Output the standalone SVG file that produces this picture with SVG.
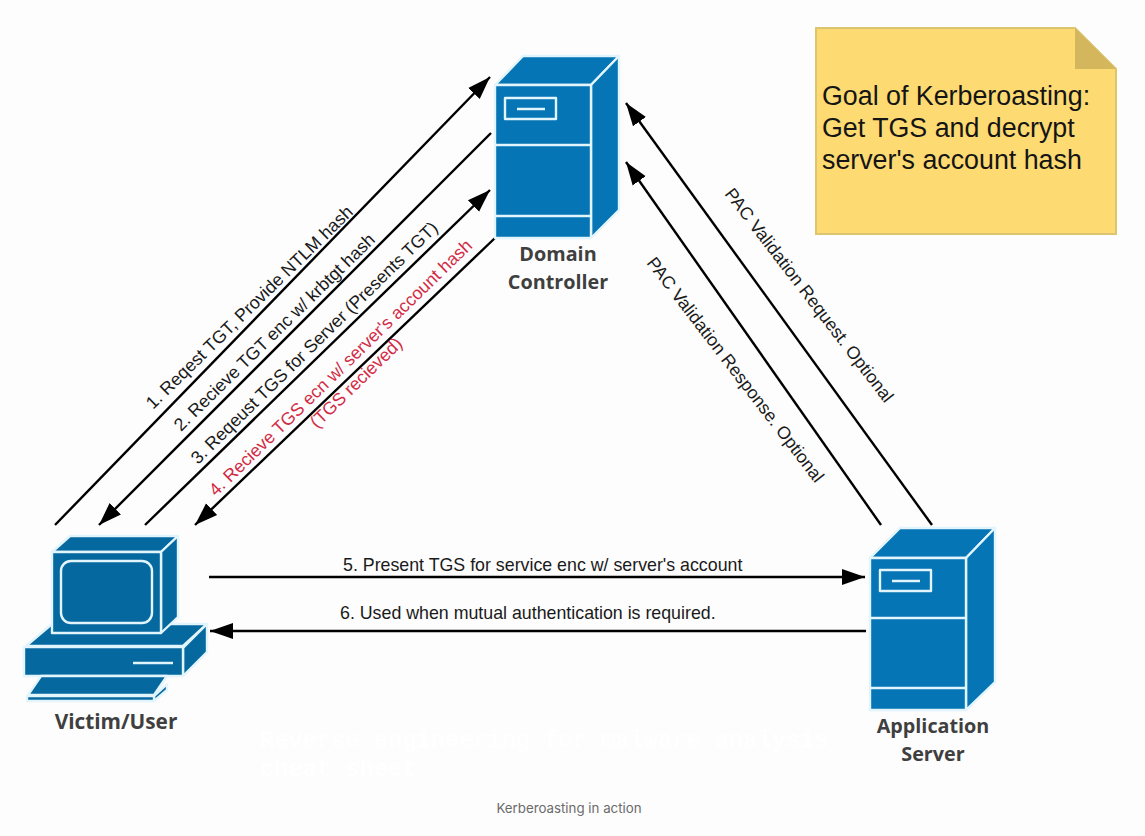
<svg xmlns="http://www.w3.org/2000/svg" width="1145" height="836" viewBox="0 0 1145 836">
<style>
.s{stroke:#e2f4fc;stroke-width:2.4;stroke-linejoin:round}
.srv{fill:#0575b5}
.pc{fill:#05699f}
.c{fill:none;stroke:#000;stroke-width:2.4}
.a{font-family:"Liberation Sans",Arial,sans-serif;font-size:17.8px;fill:#1a1a1a}
.r{fill:#d22b45}
.n{font-family:"Open Sans","Noto Sans",sans-serif;font-weight:700;font-size:19.8px;fill:#3f3f3f;text-anchor:middle}
.g{font-family:"Liberation Sans",Arial,sans-serif;font-size:26.8px;fill:#151515}
</style>
<defs>
<marker id="h" markerUnits="userSpaceOnUse" markerWidth="24" markerHeight="18" refX="23" refY="9" orient="auto"><path d="M0 1L23 9L0 17Z" fill="#000"/></marker>
</defs>
<rect width="1145" height="836" fill="#fdfdfd"/>
<g id="connectors">
<path class="c" d="M55 525L490 77" marker-end="url(#h)"/>
<path class="c" d="M491 133L99 525" marker-end="url(#h)"/>
<path class="c" d="M145 525L490 190" marker-end="url(#h)"/>
<path class="c" d="M495 238L195 525" marker-end="url(#h)"/>
<path class="c" d="M209 577H865" marker-end="url(#h)"/>
<path class="c" d="M866 631H210" marker-end="url(#h)"/>
<path class="c" d="M932 525L626 103" marker-end="url(#h)"/>
<path class="c" d="M881 525L626 162" marker-end="url(#h)"/>
</g>
<g id="labels">
<text class="a" transform="translate(153 410) rotate(-44.4)">1. Reqest TGT, Provide NTLM hash</text>
<text class="a" transform="translate(181 432) rotate(-44.4)">2. Recieve TGT enc w/ krbtgt hash</text>
<text class="a" transform="translate(198 465) rotate(-44.4)">3. Reqeust TGS for Server (Presents TGT)</text>
<text class="a r" transform="translate(216 497) rotate(-44.2)">4. Recieve TGS ecn w/ server's account hash</text>
<text class="a r" transform="translate(317 429) rotate(-44.2)">(TGS recieved)</text>
<text class="a" x="343" y="571">5. Present TGS for service enc w/ server's account</text>
<text class="a" x="340" y="619">6. Used when mutual authentication is required.</text>
<text class="a" transform="translate(724 194) rotate(52.5)">PAC Validation Request. Optional</text>
<text class="a" transform="translate(646 263) rotate(52.5)">PAC Validation Response. Optional</text>
</g>
<g id="domain-controller">
<path class="srv s" d="M495 85L523 56H619L591 85Z"/>
<path class="srv s" d="M591 85L619 56V210L591 238Z"/>
<rect class="srv s" x="495" y="85" width="96" height="153"/>
<path class="s" fill="none" d="M495 145H591M495 216H591M517 109H545"/>
<rect class="s" fill="none" x="505" y="98" width="51" height="21"/>
<text class="n" x="558" y="261">Domain</text>
<text class="n" x="558" y="289">Controller</text>
</g>
<g id="application-server">
<path class="srv s" d="M870 558L900 528H995L966 558Z"/>
<path class="srv s" d="M966 558L995 528V682L966 710Z"/>
<rect class="srv s" x="870" y="558" width="96" height="152"/>
<path class="s" fill="none" d="M870 618H966M870 688H966M892 581H920"/>
<rect class="s" fill="none" x="880" y="570" width="51" height="21"/>
<text class="n" x="933" y="733">Application</text>
<text class="n" x="933" y="761">Server</text>
</g>
<g id="victim-user">
<path class="pc s" d="M26 646L52 624H207L183 646Z"/>
<path class="pc s" d="M183 648L207 624V652L183 676Z"/>
<rect class="pc s" x="24" y="647" width="159" height="29"/>
<path class="s" fill="none" d="M133 663H173"/>
<path class="pc s" d="M28 695L41 676H167L154 695Z"/>
<path class="pc s" d="M154 696L167 684V690L154 701Z"/>
<rect class="pc s" x="27" y="696" width="127" height="5"/>
<path class="pc s" d="M52 552L70 536H178L161 552Z"/>
<path class="pc s" d="M161 552L178 536V617L161 633Z"/>
<rect class="pc s" x="52" y="552" width="109" height="81"/>
<rect class="s" fill="none" x="61" y="561" width="91" height="62" rx="10"/>
<text class="n" x="116" y="729" style="font-size:20.8px">Victim/User</text>
</g>
<g id="note">
<path d="M816 28H1075L1116 69V234H816Z" fill="#fedb72" stroke="#dcc56e" stroke-width="2"/>
<path d="M1075 28L1116 69H1075Z" fill="#d4b65c"/>
<text class="g" x="822" y="105">Goal of Kerberoasting:</text>
<text class="g" x="822" y="137">Get TGS and decrypt</text>
<text class="g" x="822" y="169">server's account hash</text>
</g>
<g id="caption">
<text x="260" y="747" font-family="Liberation Mono,monospace" font-weight="700" font-size="23.7px" fill="#fff">Reverse engineering for malware analysis</text>
<text x="260" y="776" font-family="Liberation Mono,monospace" font-weight="700" font-size="23.7px" fill="#fff">cheat sheet</text>
<text x="569" y="813" text-anchor="middle" font-family="Inter,Roboto,sans-serif" font-size="13.3px" fill="#6b6b6b">Kerberoasting in action</text>
</g>
</svg>
